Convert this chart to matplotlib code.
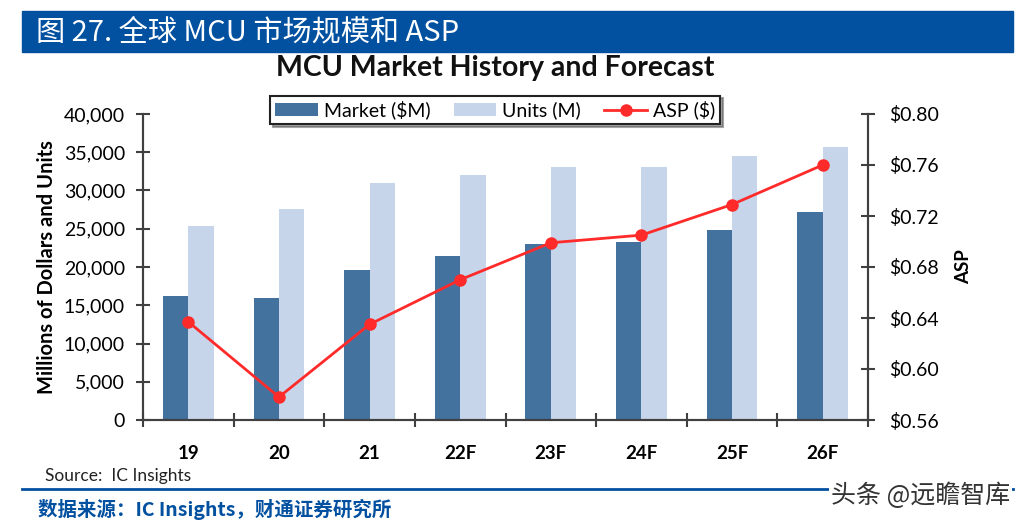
import numpy as np
import matplotlib.pyplot as plt
from matplotlib.patches import Rectangle
from matplotlib.lines import Line2D

plt.rcParams['font.family'] = ['Lato', 'Noto Sans CJK SC', 'DejaVu Sans']

# data
years = ['19', '20', '21', '22F', '23F', '24F', '25F', '26F']
market = [16200, 15900, 19600, 21450, 23000, 23250, 24850, 27250]
units = [25400, 27550, 30950, 32000, 33100, 33100, 34450, 35750]
asp = [0.637, 0.578, 0.635, 0.670, 0.699, 0.705, 0.729, 0.760]

c_market = '#44729F'
c_units = '#C6D5EA'
c_asp = '#FF2A2A'
c_axis = '#404040'

fig = plt.figure(figsize=(10.24, 5.25), dpi=100)

# header bar
fig.patches.append(Rectangle((22 / 1024, 1 - 52 / 525), 991 / 1024, 41 / 525,
                             transform=fig.transFigure, color='#0250A0', zorder=0))
fig.text(36 / 1024, 1 - 32 / 525, '图 27. 全球 MCU 市场规模和 ASP', color='white',
         fontsize=21, va='center', ha='left', fontweight='medium',
         family=['Noto Sans CJK SC', 'DejaVu Sans'])

fig.text(495 / 1024, 1 - 68 / 525, 'MCU Market History and Forecast',
         fontsize=20.5, fontweight='bold', ha='center', va='center', color='#111111')

ax = fig.add_axes([143 / 1024, 1 - 420 / 525, 725 / 1024, 306 / 525])
x = np.arange(len(years))
w = 0.28
b1 = ax.bar(x - w / 2, market, w, color=c_market, label='Market ($M)', zorder=2)
b2 = ax.bar(x + w / 2, units, w, color=c_units, label='Units (M)', zorder=2)
ax.set_xlim(-0.5, len(years) - 0.5)
ax.set_ylim(0, 40000)
ax.set_yticks(np.arange(0, 40001, 5000))
ax.set_yticklabels([f'{v:,}' for v in range(0, 40001, 5000)], fontsize=14)
ax.set_xticks(x)
ax.set_xticklabels(years, fontsize=13.5, fontweight='bold')
ax.set_xticks(np.arange(-0.5, len(years)), minor=True)
ax.tick_params(axis='x', which='major', length=0, pad=18)
ax.tick_params(axis='x', which='minor', length=10, direction='inout', width=1.5, color=c_axis)
ax.tick_params(axis='y', length=10, direction='inout', width=1.5, color=c_axis, pad=8)
ax.set_ylabel('Millions of Dollars and Units', fontsize=14.5, fontweight='bold', labelpad=5)
for s in ['left', 'bottom', 'right']:
    ax.spines[s].set_color(c_axis)
    ax.spines[s].set_linewidth(1.5)
ax.spines['top'].set_visible(False)

ax2 = ax.twinx()
ln, = ax2.plot(x, asp, color=c_asp, lw=2, marker='o', ms=8, label='ASP ($)', zorder=3)
ax2.set_ylim(0.56, 0.80)
ax2.set_yticks(np.arange(0.56, 0.801, 0.04))
ax2.set_yticklabels([f'${v:.2f}' for v in np.arange(0.56, 0.801, 0.04)], fontsize=14)
ax2.tick_params(axis='y', length=10, direction='inout', width=1.5, color=c_axis, pad=10)
ax2.set_ylabel('ASP', fontsize=13.5, fontweight='bold', labelpad=12)
for s in ['left', 'bottom', 'right']:
    ax2.spines[s].set_color(c_axis)
    ax2.spines[s].set_linewidth(1.5)
ax2.spines['top'].set_visible(False)

leg = fig.legend(handles=[b1, b2, ln], loc='center', ncol=3,
                 bbox_to_anchor=(495 / 1024, 1 - 110 / 525), fontsize=14,
                 frameon=True, fancybox=False, shadow=True, edgecolor='#222222',
                 handlelength=2.2, handletextpad=0.3, columnspacing=1.2,
                 borderpad=0.25)
leg.get_frame().set_linewidth(1.5)

fig.text(45 / 1024, 1 - 476 / 525, 'Source:  IC Insights', fontsize=12.5, va='center',
         color='#222222')
fig.add_artist(Line2D([22 / 1024, 1013 / 1024], [1 - 489 / 525, 1 - 489 / 525],
                      transform=fig.transFigure, color='#0250A0', lw=2))
fig.text(38 / 1024, 1 - 509 / 525, '数据来源：IC Insights，财通证券研究所', fontsize=14,
         fontweight='bold', color='#0250A0', va='center',
         family=['Noto Sans CJK SC', 'DejaVu Sans'])
fig.text(1010 / 1024, 1 - 496 / 525, '头条 @远瞻智库', fontsize=18, ha='right', va='center',
         color='#333333', family=['Noto Sans CJK SC', 'DejaVu Sans'],
         bbox=dict(facecolor='white', edgecolor='none', pad=1))

fig.savefig('out.png', dpi=100)
